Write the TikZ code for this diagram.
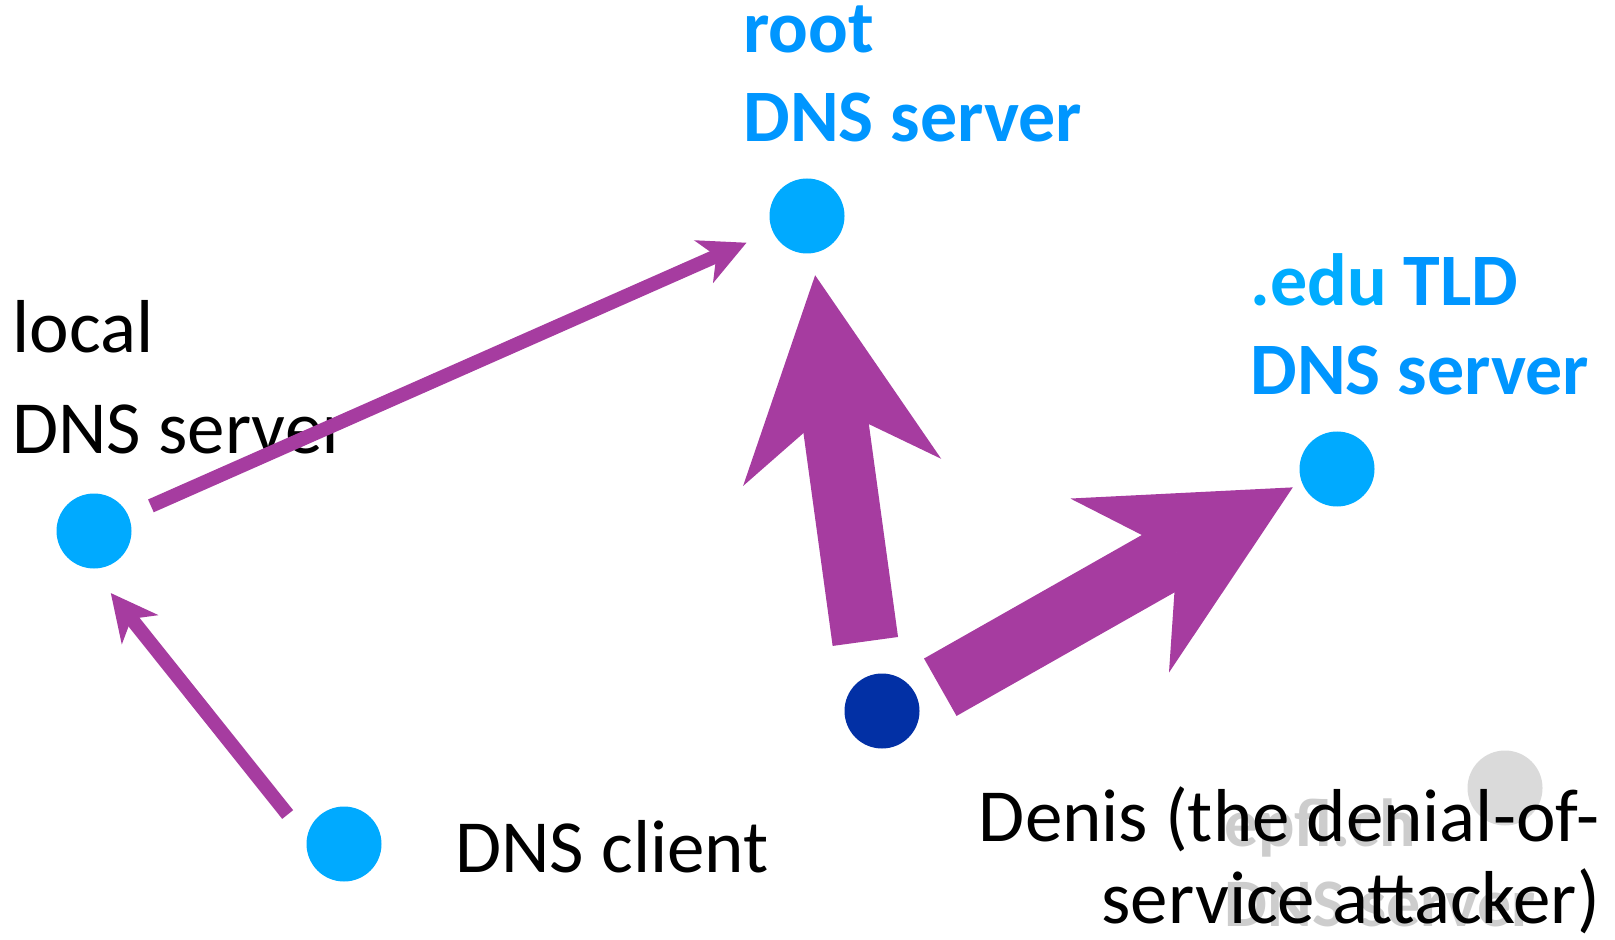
\documentclass[tikz,border=0pt]{standalone}
\usepackage{fontspec}
\setmainfont{Carlito}
\usetikzlibrary{arrows.meta}

\definecolor{dotblue}{RGB}{0,170,255}
\definecolor{textblue}{RGB}{0,150,255}
\definecolor{edublue}{RGB}{0,172,255}
\definecolor{attacker}{RGB}{2,48,165}
\definecolor{flow}{RGB}{166,60,160}
\definecolor{ghostdot}{RGB}{218,218,218}
\definecolor{ghosttext}{RGB}{205,205,205}

\tikzset{
  server/.style={circle, fill=dotblue, minimum size=37.5pt, inner sep=0pt},
  denisdot/.style={server, fill=attacker},
  ghostdotstyle/.style={server, fill=ghostdot},
  bluelabel/.style={font=\fontsize{37}{44.5}\selectfont\bfseries, text=textblue, align=left, inner sep=0pt},
  blacklabel/.style={font=\fontsize{37.5}{50.5}\selectfont, align=left, inner sep=0pt},
  denislabel/.style={font=\fontsize{37.5}{41}\selectfont, align=right, inner sep=0pt},
  ghostlabel/.style={font=\fontsize{34}{40}\selectfont\bfseries, text=ghosttext, align=left, inner sep=0pt},
  query/.style={draw=flow, line width=7pt, -{Stealth[length=23.5pt, width=23.5pt, inset=7pt, line width=0pt]}},
  flood/.style={draw=flow, line width=33pt, -{Stealth[length=99.5pt, width=100pt, inset=33pt, line width=0pt]}}
}

\begin{document}
\begin{tikzpicture}[x=0.5pt,y=0.5pt,yscale=-1,xscale=1]
\useasboundingbox (0,0) rectangle (1615,940);

% faded server behind the attacker text
\node[ghostdotstyle] (epfl) at (1505,788) {};
\node[ghostlabel, anchor=base west] (epfllbl) at (1224,926) {epfl.ch\\DNS server};

% Dots
\node[server] (root) at (807,216) {};
\node[server] (local) at (94,531) {};
\node[server] (client) at (344,844) {};
\node[server] (tld) at (1337,469) {};
\node[denisdot] (denis) at (882,711) {};

% Text Node (base = last line)
\node[bluelabel, anchor=base west] (rootlbl) at (743,142) {root\\DNS server};
% Text Node
\node[bluelabel, anchor=base west] (tldlbl) at (1250,395) {{\color{edublue}.edu} TLD\\DNS server};
% Text Node
\node[blacklabel, anchor=base west] (locallbl) at (12,453) {local\\DNS server};
% Text Node
\node[blacklabel, anchor=base west] (clientlbl) at (455,872) {DNS client};
% Text Node
\node[denislabel, anchor=base east] (denislbl) at (1600,923) {Denis (the denial-of-\\service attacker)};

% normal lookup
\draw[query, shorten <=29.1pt, shorten >=29.5pt] ([shift={(-20,16)}]client.center) -- ([shift={(-20,16)}]local.center);
\draw[query, shorten <=31.1pt, shorten >=33.1pt] (local.center) -- (root.center);

% flooding
\draw[flood, shorten <=35.6pt, shorten >=29.9pt] ([shift={(-7,1)}]denis.center) -- (root.center);
\draw[flood, shorten <=31.2pt, shorten >=23.7pt] ([shift={(4,7)}]denis.center) -- ([shift={(-3,-5)}]tld.center);

\end{tikzpicture}
\end{document}
